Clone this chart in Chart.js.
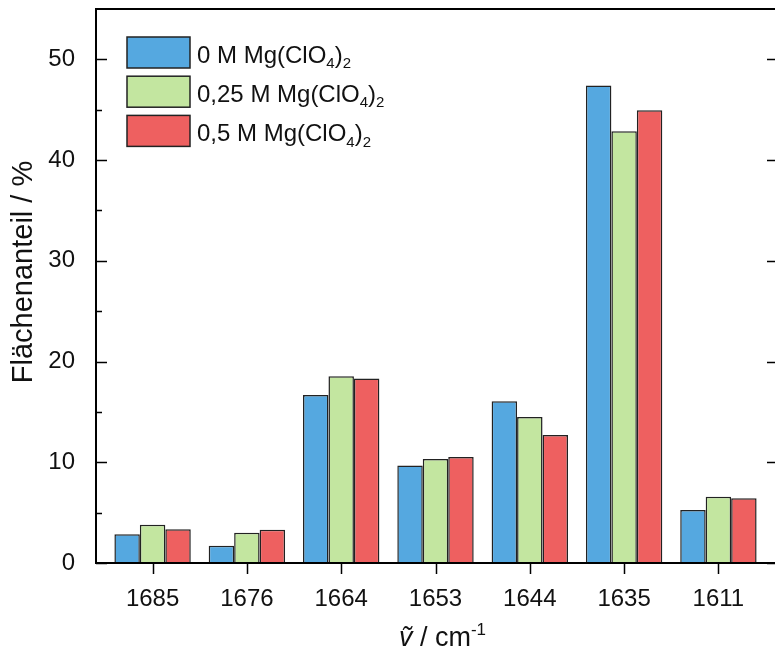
<!DOCTYPE html>
<html>
<head>
<meta charset="utf-8">
<script src="https://cdn.jsdelivr.net/npm/chart.js@4.4.0/dist/chart.umd.min.js"></script>
<style>
    html, body { margin: 0; padding: 0; background: #ffffff; }
    #chart { display: block; }
</style>
</head>
<body>
<canvas id="chart" width="775" height="650"></canvas>
<script>
// wavenumber bands (cm-1) and area fractions (%) per Mg(ClO4)2 concentration
const bands = ['1685', '1676', '1664', '1653', '1644', '1635', '1611'];
const series0 = [2.86, 1.71, 16.68, 9.69, 16.05, 47.4, 5.25];
const series025 = [3.80, 3.00, 18.54, 10.32, 14.49, 42.86, 6.58];
const series05 = [3.36, 3.30, 18.31, 10.52, 12.70, 44.95, 6.44];
// "_x" marks a subscript
const seriesLabels = ['0 M Mg(ClO_4)_2', '0,25 M Mg(ClO_4)_2', '0,5 M Mg(ClO_4)_2'];
const yTicks = [0, 10, 20, 30, 40, 50];
const yMinorTicks = [5, 15, 25, 35, 45];

const fillColors = ['#55A8E0', '#C3E6A0', '#EE6060'];
const FONT = '"Liberation Sans", Arial, sans-serif';

function drawRich(ctx, text, x, y, size) {
    // splits "abc_4" into normal / small shifted parts
    const parts = text.split(/([_^]-?\d)/).filter(p => p.length);
    parts.forEach(p => {
        if (p[0] === '_' || p[0] === '^') {
            const small = Math.round(size * 0.64);
            ctx.font = `${small}px ${FONT}`;
            const dy = p[0] === '_' ? size * 0.22 : -size * 0.42;
            ctx.fillText(p.slice(1), x, y + dy);
            x += ctx.measureText(p.slice(1)).width;
        } else {
            ctx.font = `${size}px ${FONT}`;
            ctx.fillText(p, x, y);
            x += ctx.measureText(p).width;
        }
    });
    return x;
}

const framePlugin = {
    id: 'frame',
    afterDraw(chart) {
        const { ctx, chartArea: a } = chart;
        const xs = chart.scales.x, ys = chart.scales.y;
        ctx.save();
        ctx.strokeStyle = '#000';
        ctx.lineWidth = 2;
        ctx.lineCap = 'square';
        ctx.beginPath();
        ctx.moveTo(a.left, a.top); ctx.lineTo(a.right + 1, a.top);
        ctx.lineTo(a.right + 1, a.bottom); ctx.lineTo(a.left, a.bottom);
        ctx.closePath();
        ctx.stroke();

        ctx.lineCap = 'butt';
        ctx.lineWidth = 1.5;
        ctx.beginPath();
        yTicks.forEach(v => {
            const py = Math.round(ys.getPixelForValue(v)) + 0.5;
            ctx.moveTo(a.left, py); ctx.lineTo(a.left + 11, py);
            ctx.moveTo(a.right + 1, py); ctx.lineTo(a.right - 8, py);
        });
        yMinorTicks.forEach(v => {
            const py = Math.round(ys.getPixelForValue(v)) + 0.5;
            ctx.moveTo(a.left, py); ctx.lineTo(a.left + 6, py);
        });
        bands.forEach((b, i) => {
            const px = Math.round(xs.getPixelForValue(i)) + 0.5;
            ctx.moveTo(px, a.bottom); ctx.lineTo(px, a.bottom + 11);
        });
        ctx.stroke();

        // legend
        chart.data.datasets.forEach((ds, i) => {
            const bx = a.left + 31, by = a.top + 28 + i * 39.2;
            ctx.fillStyle = ds.backgroundColor;
            ctx.fillRect(bx, by, 63, 31);
            ctx.strokeStyle = '#222';
            ctx.lineWidth = 1.5;
            ctx.strokeRect(bx, by, 63, 31);
            ctx.fillStyle = '#111';
            ctx.textBaseline = 'alphabetic';
            ctx.textAlign = 'left';
            drawRich(ctx, ds.label, bx + 70, by + 26, 24);
        });

        // axis titles
        ctx.fillStyle = '#111';
        ctx.textBaseline = 'alphabetic';
        ctx.textAlign = 'left';
        const tSize = 27;
        ctx.font = `italic ${tSize}px ${FONT}`;
        const w1 = ctx.measureText('\u1E7D').width;
        ctx.font = `${tSize}px ${FONT}`;
        const w2 = ctx.measureText(' / cm').width;
        ctx.font = `${Math.round(tSize * 0.64)}px ${FONT}`;
        const w3 = ctx.measureText('-1').width;
        let tx = (a.left + a.right) / 2 + 7 - (w1 + w2 + w3) / 2;
        const ty = 646;
        ctx.font = `italic ${tSize}px ${FONT}`;
        ctx.fillText('\u1E7D', tx, ty);
        drawRich(ctx, ' / cm^-1', tx + w1, ty, tSize);

        ctx.translate(24, (a.top + a.bottom) / 2 - 14);
        ctx.rotate(-Math.PI / 2);
        ctx.textAlign = 'center';
        ctx.textBaseline = 'middle';
        ctx.font = `29px ${FONT}`;
        ctx.fillText('Flächenanteil / %', 0, 0);
        ctx.restore();
    }
};

new Chart(document.getElementById('chart'), {
    type: 'bar',
    data: {
        labels: bands,
        datasets: [series0, series025, series05].map((data, i) => ({
            label: seriesLabels[i],
            data: data,
            backgroundColor: fillColors[i],
            borderColor: '#222',
            borderWidth: 1.5,
            categoryPercentage: 0.81,
            barPercentage: 1.0
        }))
    },
    options: {
        responsive: false,
        animation: false,
        devicePixelRatio: 1,
        layout: { padding: { top: 9, right: 0, left: 0, bottom: 0 } },
        plugins: {
            legend: { display: false },
            tooltip: { enabled: false }
        },
        scales: {
            x: {
                grid: { display: false },
                border: { display: false },
                ticks: { color: '#111', font: { family: FONT, size: 24 }, padding: 14, maxRotation: 0 },
                afterFit: s => { s.height = 87; s.paddingLeft = 0; s.paddingRight = 0; },
                afterBuildTicks: s => { s._startValue = -0.6; s._valueRange = 7.2; }
            },
            y: {
                min: 0,
                max: 55,
                grid: { display: false },
                border: { display: false },
                ticks: { stepSize: 10, includeBounds: false, color: '#111', font: { family: FONT, size: 24 }, padding: 13 },
                afterFit: s => { s.width = 96; s.paddingTop = 0; s.paddingBottom = 0; }
            }
        }
    },
    plugins: [framePlugin]
});
</script>
</body>
</html>
